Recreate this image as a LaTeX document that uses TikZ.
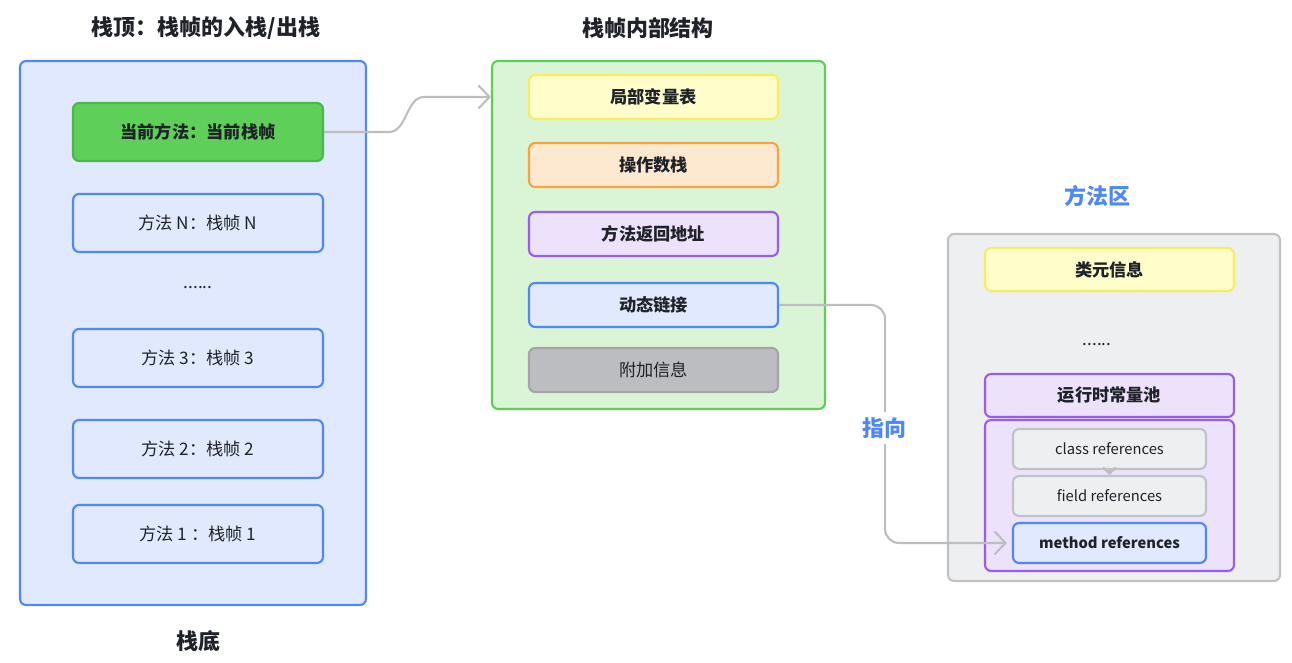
\documentclass[tikz,border=0pt]{standalone}
\usepackage{fontspec}
\setmainfont{Noto Sans CJK SC}
\usetikzlibrary{arrows.meta}
\definecolor{ink}{RGB}{31,35,41}
\definecolor{bluefill}{RGB}{224,233,253}
\definecolor{blueline}{RGB}{79,135,247}
\definecolor{curfill}{RGB}{94,207,88}
\definecolor{curline}{RGB}{76,182,72}
\definecolor{greenfill}{RGB}{218,245,214}
\definecolor{greenline}{RGB}{93,207,88}
\definecolor{yellowfill}{RGB}{255,253,201}
\definecolor{yellowline}{RGB}{252,235,92}
\definecolor{orangefill}{RGB}{253,232,208}
\definecolor{orangeline}{RGB}{251,162,62}
\definecolor{purplefill}{RGB}{237,226,252}
\definecolor{purpleline}{RGB}{154,90,245}
\definecolor{darkfill}{RGB}{187,189,193}
\definecolor{darkline}{RGB}{163,165,168}
\definecolor{grayfill}{RGB}{238,239,241}
\definecolor{grayline}{RGB}{192,194,197}
\definecolor{wire}{RGB}{189,190,193}
\tikzset{
  >={Straight Barb[length=2.2mm,width=4.6mm]},
  txt/.style={font=\fontsize{9.8pt}{12pt}\selectfont,text=ink},
  btxt/.style={font=\fontsize{9.8pt}{12pt}\selectfont\bfseries,text=ink},
  etxt/.style={font=\fontsize{8.4pt}{10pt}\selectfont,text=ink},
  head/.style={font=\fontsize{12.5pt}{15pt}\selectfont\bfseries,text=#1},
  head/.default=ink,
  area/.style={draw=#1line,fill=#1fill,line width=1.2pt,rounded corners=3.5pt,inner sep=0pt},
  frm/.style={area=blue,minimum width=50mm,minimum height=11.6mm,txt},
  cell/.style={area=#1,minimum width=49.8mm,minimum height=8.8mm,btxt},
  ref/.style={area=#1,minimum width=38.6mm,minimum height=8mm,etxt},
  ref/.default=gray,
  link/.style={draw=wire,line width=1.2pt},
}
\begin{document}
\begin{tikzpicture}
  \useasboundingbox (0,0) rectangle (25.84,13.26);
  % stack of frames
  \node[head] (top) at (4.12,12.70) {栈顶：栈帧的入栈/出栈};
  \node[area=blue,minimum width=69.2mm,minimum height=108.8mm] (stack) at (3.86,6.60) {};
  \node[frm,area=cur,btxt] (cur) at (3.96,10.62) {当前方法：当前栈帧};
  \node[frm] (fn) at (3.96,8.80) {方法 N：栈帧 N};
  \node[txt] (sdots) at (3.96,7.50) {......};
  \node[frm] (f3) at (3.96,6.10) {方法 3：栈帧 3};
  \node[frm] (f2) at (3.96,4.28) {方法 2：栈帧 2};
  \node[frm] (f1) at (3.96,2.58) {方法 1 ：栈帧 1};
  \node[head] (bot) at (3.96,0.44) {栈底};
  % inside one frame
  \node[head] (inner) at (12.96,12.70) {栈帧内部结构};
  \node[area=green,minimum width=66.6mm,minimum height=69.6mm] (frame) at (13.17,8.56) {};
  \node[cell=yellow] (lvt) at (13.07,11.32) {局部变量表};
  \node[cell=orange] (ops) at (13.07,9.96) {操作数栈};
  \node[cell=purple] (ret) at (13.07,8.58) {方法返回地址};
  \node[cell=blue] (dyn) at (13.07,7.16) {动态链接};
  \node[cell=dark,txt] (ext) at (13.07,5.86) {附加信息};
  % method area
  \node[head=blueline] (marea) at (21.94,9.34) {方法区};
  \node[area=gray,minimum width=66.4mm,minimum height=69.4mm] (ma) at (22.28,5.11) {};
  \node[cell=yellow,minimum height=8.6mm] (meta) at (22.19,7.87) {类元信息};
  \node[txt] (mdots) at (21.94,6.36) {......};
  \node[cell=purple,minimum height=8.6mm] (pool) at (22.19,5.35) {运行时常量池};
  \node[area=purple,minimum width=49.8mm,minimum height=30.2mm] (refs) at (22.19,3.35) {};
  \node[ref] (cref) at (22.19,4.28) {class references};
  \node[ref] (fref) at (22.19,3.34) {field references};
  \node[ref=blue,font=\fontsize{8.4pt}{10pt}\selectfont\bfseries] (mref) at (22.19,2.40) {method references};
  % connectors
  \draw[link,->] (cur.east) -- ++(1.3,0) .. controls +(0.36,0) and +(-0.36,0) .. ++(0.7,0.7) -- (frame.west |- lvt);
  \draw[link,->,rounded corners=8pt] (dyn.east) -- ++(2.12,0) |- ([xshift=-1mm]mref.west);
  \draw[link,-{Straight Barb[length=1.2mm,width=2.6mm]}] (cref.south) -- (fref.north);
  \node[head=blueline,fill=white,inner sep=3pt] (ptr) at (17.68,4.70) {指向};
\end{tikzpicture}
\end{document}
